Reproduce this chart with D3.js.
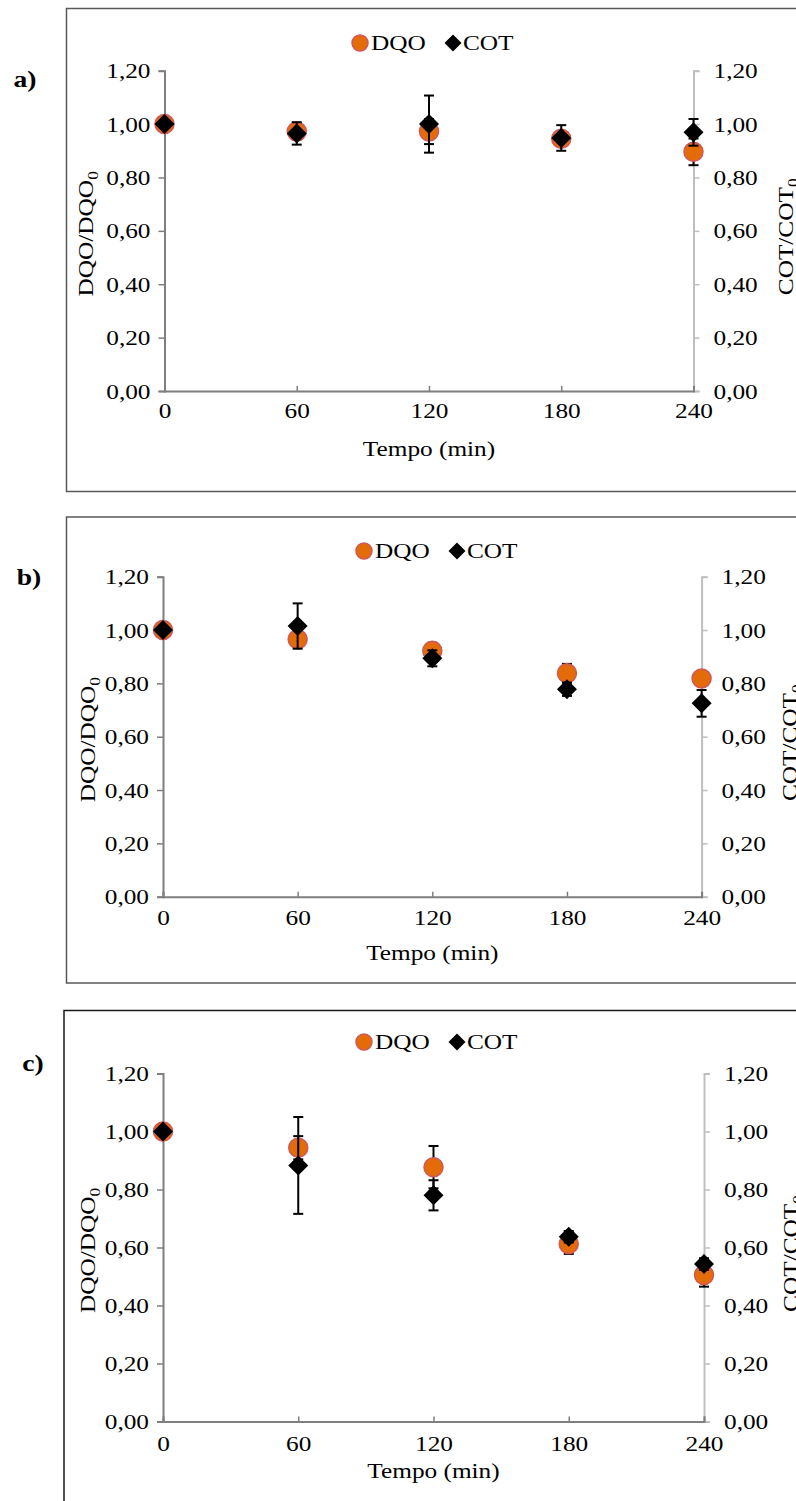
<!DOCTYPE html>
<html>
<head>
<meta charset="utf-8">
<script src="https://cdn.jsdelivr.net/npm/d3@7"></script>
<style>
  html, body { margin: 0; padding: 0; background: #fff; }
  svg { display: block; }
  svg text { font-family: "Liberation Serif", "Times New Roman", Times, serif; }
</style>
</head>
<body>
<svg id="chart" width="796" height="1501" font-family="Liberation Serif, Times New Roman, serif"></svg>
<script>
// Sampling times (min)
const times = [0, 60, 120, 180, 240];
const xTicks = [0, 60, 120, 180, 240];
const yTicks = [0, 0.2, 0.4, 0.6, 0.8, 1.0, 1.2];
const panelLabels = ["a)", "b)", "c)"];

// Normalised DQO (COD) and COT (TOC) with standard deviations
const dqoA = [1.00, 0.972, 0.972, 0.945, 0.896];
const dqoErrA = [0, 0.03, 0.047, 0.02, 0.05];
const cotA = [1.00, 0.965, 1.00, 0.948, 0.969];
const cotErrA = [0, 0.042, 0.107, 0.048, 0.05];

const dqoB = [1.00, 0.965, 0.922, 0.838, 0.818];
const dqoErrB = [0, 0.03, 0.03, 0.035, 0.02];
const cotB = [1.00, 1.015, 0.894, 0.778, 0.725];
const cotErrB = [0, 0.085, 0.03, 0.025, 0.05];

const dqoC = [1.00, 0.944, 0.877, 0.612, 0.505];
const dqoErrC = [0, 0.04, 0.073, 0.034, 0.04];
const cotC = [1.00, 0.883, 0.78, 0.637, 0.543];
const cotErrC = [0, 0.167, 0.052, 0.02, 0.02];

const series = [
  { dqo: dqoA, dqoErr: dqoErrA, cot: cotA, cotErr: cotErrA },
  { dqo: dqoB, dqoErr: dqoErrB, cot: cotB, cotErr: cotErrB },
  { dqo: dqoC, dqoErr: dqoErrC, cot: cotC, cotErr: cotErrC }
];

// Layout of the three stacked panels
const layout = [
  { box: [66.5, 8.5, 820, 491.5], x0: 164.5, x1: 693.5, y0: 391, y1: 70.7, boxColor: "#595959",
    legendY: 43, legendX: 360, tag: [25, 80], yLabelX: 86, y2LabelX: 786, xLabY: 27, titleY: 65 },
  { box: [66.5, 517, 820, 983], x0: 163, x1: 701.6, y0: 896.7, y1: 576.7, boxColor: "#595959",
    legendY: 551, legendX: 364, tag: [29, 578], yLabelX: 88, y2LabelX: 790, xLabY: 28, titleY: 63 },
  { box: [64, 1010.5, 820, 1520], x0: 163, x1: 704, y0: 1421.5, y1: 1073.5, boxColor: "#1a1a1a",
    legendY: 1042, legendX: 364, tag: [33, 1064], yLabelX: 88, y2LabelX: 791, xLabY: 30, titleY: 57 }
];

const svg = d3.select("#chart");
const fmt = d => d3.format(".2f")(d).replace(".", ",");
const DQO_FILL = "#e36c09", DQO_STROKE = "#d0575a";
const FONT = "Liberation Serif, Times New Roman, serif";
const FS = 22;
const SX = 1.15; // horizontal widening of the lettering

// Widen a text along its own baseline, keeping its anchor point fixed
function widen(sel) {
  sel.each(function () {
    const t = d3.select(this);
    const ax = +t.attr("x") || 0;
    const prev = t.attr("transform") || "";
    t.attr("transform", `${prev} translate(${ax},0) scale(${SX},1) translate(${-ax},0)`);
  });
}

function diamondPath(cx, cy, r) {
  return `M${cx},${cy - r}L${cx + r},${cy}L${cx},${cy + r}L${cx - r},${cy}Z`;
}

layout.forEach((L, i) => {
  const S = series[i];
  const g = svg.append("g").attr("font-family", FONT);
  const [bx0, by0, bx1, by1] = L.box;

  g.append("rect").attr("x", bx0).attr("y", by0)
    .attr("width", bx1 - bx0).attr("height", by1 - by0)
    .attr("fill", "#fff").attr("stroke", L.boxColor).attr("stroke-width", 1.5);

  const x = d3.scaleLinear().domain([0, 240]).range([L.x0, L.x1]);
  const y = d3.scaleLinear().domain([0, 1.2]).range([L.y0, L.y1]);

  // Left axis
  const yl = g.append("g").attr("transform", `translate(${L.x0},0)`)
    .call(d3.axisLeft(y).tickValues(yTicks).tickSize(6).tickPadding(8).tickFormat(fmt))
    .attr("font-family", FONT);
  yl.select(".domain").attr("stroke", "#7f7f7f").attr("stroke-width", 2);
  yl.selectAll(".tick line").attr("stroke", "#7f7f7f").attr("stroke-width", 1.5);
  yl.selectAll(".tick text").attr("font-size", FS).attr("fill", "#000").call(widen);

  // Right axis
  const yr = g.append("g").attr("transform", `translate(${L.x1},0)`)
    .call(d3.axisRight(y).tickValues(yTicks).tickSize(6).tickPadding(14).tickFormat(fmt))
    .attr("font-family", FONT);
  yr.select(".domain").attr("stroke", "#bfbfbf").attr("stroke-width", 2);
  yr.selectAll(".tick line").attr("stroke", "#bfbfbf").attr("stroke-width", 1.5);
  yr.selectAll(".tick text").attr("font-size", FS).attr("fill", "#000").call(widen);

  // Bottom axis
  const xa = g.append("g").attr("transform", `translate(0,${L.y0})`)
    .call(d3.axisBottom(x).tickValues(xTicks).tickSize(-5).tickPadding(0).tickFormat(d3.format("d")))
    .attr("font-family", FONT);
  xa.select(".domain").attr("stroke", "#7f7f7f").attr("stroke-width", 2);
  xa.selectAll(".tick line").attr("stroke", "#7f7f7f").attr("stroke-width", 1.5);
  xa.selectAll(".tick text").attr("font-size", FS).attr("fill", "#000")
    .attr("dy", null).attr("y", L.xLabY).call(widen);

  // Axis titles
  g.append("text").attr("x", (L.x0 + L.x1) / 2).attr("y", L.y0 + L.titleY)
    .attr("text-anchor", "middle").attr("font-size", FS).text("Tempo (min)").call(widen);

  const yl2 = g.append("text")
    .attr("transform", `translate(${L.yLabelX + 7},${(L.y0 + L.y1) / 2 + 3}) rotate(-90)`)
    .attr("text-anchor", "middle").attr("font-size", FS);
  yl2.append("tspan").text("DQO/DQO");
  yl2.append("tspan").attr("font-size", 15).attr("dy", 5).text("0");
  yl2.call(widen);

  const yr2 = g.append("text")
    .attr("transform", `translate(${L.y2LabelX + 7},${(L.y0 + L.y1) / 2 + 6}) rotate(-90)`)
    .attr("text-anchor", "middle").attr("font-size", FS);
  yr2.append("tspan").text("COT/COT");
  yr2.append("tspan").attr("font-size", 15).attr("dy", 5).text("0");
  yr2.call(widen);

  // Panel tag
  g.append("text").attr("x", L.tag[0]).attr("y", L.tag[1] + 7)
    .attr("text-anchor", "middle").attr("font-size", 24).attr("font-weight", "bold")
    .text(panelLabels[i]).call(widen);

  // Legend
  const lg = g.append("g");
  lg.append("circle").attr("cx", L.legendX).attr("cy", L.legendY).attr("r", 8)
    .attr("fill", DQO_FILL).attr("stroke", DQO_STROKE).attr("stroke-width", 1.5);
  lg.append("text").attr("x", L.legendX + 11).attr("y", L.legendY + 7).attr("font-size", FS)
    .text("DQO").call(widen);
  lg.append("path").attr("d", diamondPath(L.legendX + 93, L.legendY, 8.5)).attr("fill", "#000");
  lg.append("text").attr("x", L.legendX + 103).attr("y", L.legendY + 7).attr("font-size", FS)
    .text("COT").call(widen);

  const capW = 5;
  function errBars(vals, errs) {
    const eg = g.append("g").attr("stroke", "#000").attr("stroke-width", 2);
    times.forEach((t, k) => {
      if (!errs[k]) return;
      const cx = x(t), top = y(vals[k] + errs[k]), bot = y(vals[k] - errs[k]);
      eg.append("line").attr("x1", cx).attr("x2", cx).attr("y1", top).attr("y2", bot);
      eg.append("line").attr("x1", cx - capW).attr("x2", cx + capW).attr("y1", top).attr("y2", top);
      eg.append("line").attr("x1", cx - capW).attr("x2", cx + capW).attr("y1", bot).attr("y2", bot);
    });
  }

  // DQO series
  errBars(S.dqo, S.dqoErr);
  g.append("g").selectAll("circle").data(times).join("circle")
    .attr("cx", t => x(t)).attr("cy", (t, k) => y(S.dqo[k])).attr("r", 9.5)
    .attr("fill", DQO_FILL).attr("stroke", DQO_STROKE).attr("stroke-width", 1.5);

  // COT series
  errBars(S.cot, S.cotErr);
  g.append("g").selectAll("path").data(times).join("path")
    .attr("d", (t, k) => diamondPath(x(t), y(S.cot[k]), 10))
    .attr("fill", "#000");
});
</script>
</body>
</html>
